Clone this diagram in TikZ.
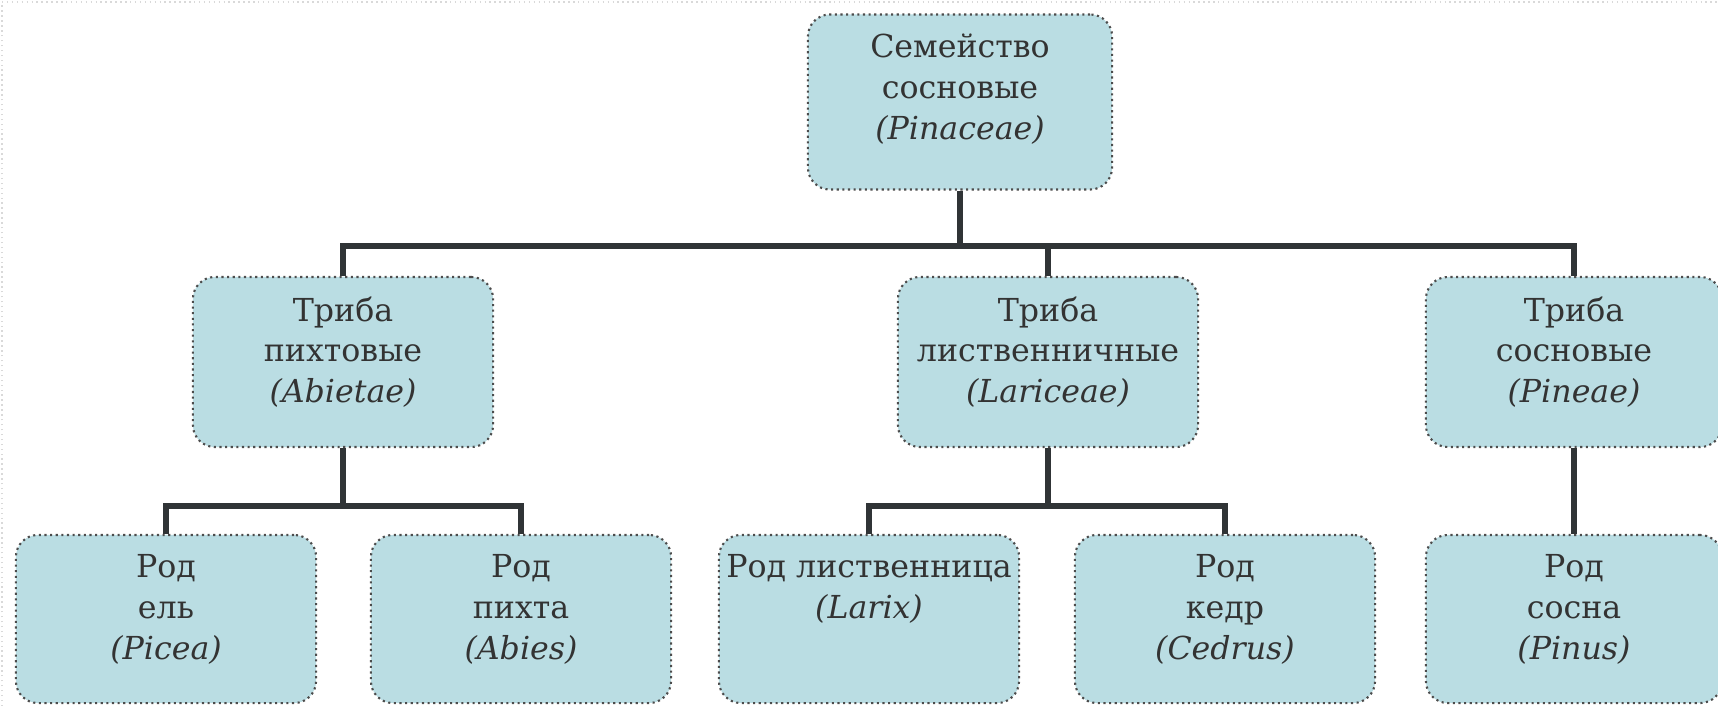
\documentclass[tikz,border=0pt]{standalone}
\usepackage{fontspec}
\setmainfont{DejaVu Serif}
\usepackage{tikz}
\usetikzlibrary{positioning}
\definecolor{boxfill}{RGB}{186,221,227}
\definecolor{linkgray}{RGB}{48,52,54}
\tikzstyle{link} = [line width=1.5pt, draw=linkgray]

\begin{document}
\begin{tikzpicture}[x=0.01cm, y=-0.01cm,
    box/.style={draw=black!70, densely dotted, line width=0.6pt, fill=boxfill, rounded corners=2.2mm, minimum width=3.0cm, minimum height=1.7cm},
    txt/.style={align=center, inner sep=0pt, text=black!80, font=\fontsize{9}{11.6}\selectfont}]
        \useasboundingbox (0,0) rectangle (1718,706);
        \draw[black!15, densely dotted] (2,706) -- (2,2) -- (1718,2);

        % Node positions
        \node[box, minimum width=3.04cm, minimum height=1.75cm] (fam) at (960,102) {};
        \node[box] (abi) at (343,362) {};
        \node[box] (lar) at (1048,362) {};
        \node[box, minimum width=2.96cm] (pin) at (1574,362) {};
        \node[box, minimum height=1.68cm] (picea) at (166,619) {};
        \node[box, minimum height=1.68cm] (abies) at (521,619) {};
        \node[box, minimum height=1.68cm] (larix) at (869,619) {};
        \node[box, minimum height=1.68cm] (cedrus) at (1225,619) {};
        \node[box, minimum width=2.96cm, minimum height=1.68cm] (pinus) at (1574,619) {};

        % Texts
        \node[txt, below=2mm of fam.north] (famtext) {Семейство\\сосновые\\\textit{(Pinaceae)}};
        \node[txt, below=2mm of abi.north] (abitext) {Триба\\пихтовые\\\textit{(Abietae)}};
        \node[txt, below=2mm of lar.north] (lartext) {Триба\\лиственничные\\\textit{(Lariceae)}};
        \node[txt, below=2mm of pin.north] (pintext) {Триба\\сосновые\\\textit{(Pineae)}};
        \node[txt, below=2mm of picea.north] (piceatext) {Род\\ель\\\textit{(Picea)}};
        \node[txt, below=2mm of abies.north] (abiestext) {Род\\пихта\\\textit{(Abies)}};
        \node[txt, below=2mm of larix.north] (larixtext) {Род лиственница\\\textit{(Larix)}};
        \node[txt, below=2mm of cedrus.north] (cedrustext) {Род\\кедр\\\textit{(Cedrus)}};
        \node[txt, below=2mm of pinus.north] (pinustext) {Род\\сосна\\\textit{(Pinus)}};

        \coordinate (bus) at (960,246);
        \coordinate (abisplit) at (343,506);
        \coordinate (larsplit) at (1048,506);

        \draw[link] (fam) -- (bus);
        \draw[link] (abi) |- (bus) -| (pin);
        \draw[link] (bus) -| (lar);
        \draw[link] (abi) -- (abisplit);
        \draw[link] (picea) |- (abisplit) -| (abies);
        \draw[link] (lar) -- (larsplit);
        \draw[link] (larix) |- (larsplit) -| (cedrus);
        \draw[link] (pin) -- (pinus);
      \end{tikzpicture}
\end{document}
